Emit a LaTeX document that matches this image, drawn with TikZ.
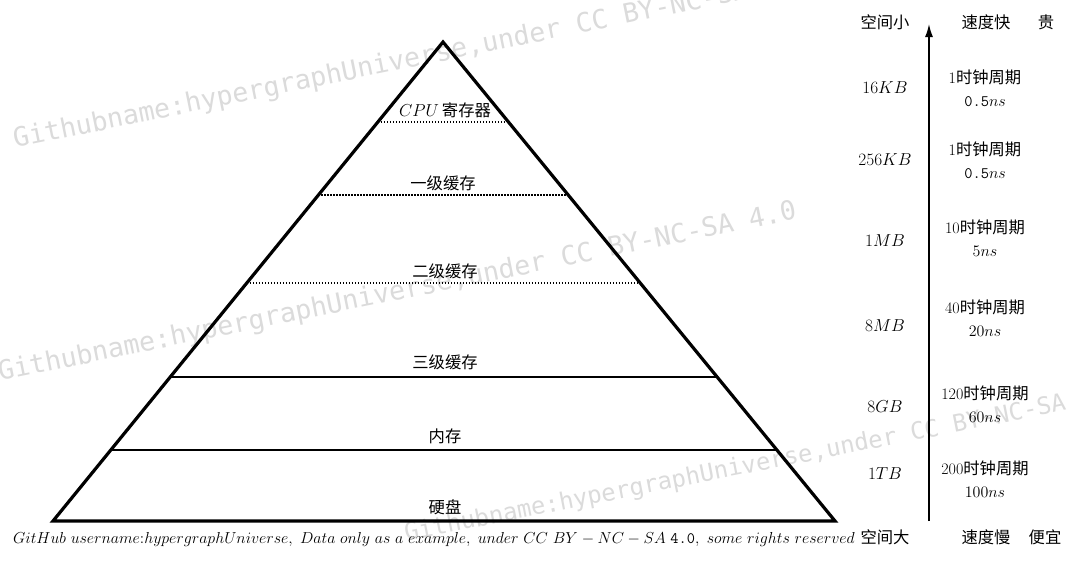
\RequirePackage{fix-cm}
\documentclass[tikz,border=0pt]{standalone}
\usepackage{fontspec}
\usetikzlibrary{calc,arrows.meta}
\newfontfamily\cjkfam{Noto Sans CJK SC}
\newfontfamily\wmfont{DejaVu Sans Mono}
\newcommand\zh[1]{{\fontsize{16.3}{23}\cjkfam #1}}
\begin{document}
\begin{tikzpicture}[x=1pt,y=-1pt,
  lbl/.style={inner sep=0pt, font=\fontsize{17.3}{22}\selectfont},
  two/.style={inner sep=0pt, align=center, font=\fontsize{16}{23}\selectfont},
  footfont/.style={inner sep=0pt, font=\fontsize{15.9}{20}\selectfont},
  tri/.style={line width=3.2pt, line join=miter},
  solidsep/.style={line width=2.8pt},
  dotsep/.style={line width=1.6pt, dash pattern=on 1.6pt off 1.4pt},
  wm/.style={text=black!14, rotate=11.5, anchor=base west, inner sep=0pt},
  axis/.style={line width=1.6pt, -{Latex[length=13pt,width=8pt]}}
]
\useasboundingbox (0,0) rectangle (1077,562);
\fill[white] (0,0) rectangle (1077,562);
% watermarks
\node[wm, font=\wmfont\fontsize{26.5}{26}\selectfont] (wm1) at (15,148) {Githubname:hypergraphUniverse,under CC BY-NC-SA 4.0};
\node[wm, font=\wmfont\fontsize{26.5}{26}\selectfont] (wm2) at (0,381) {Githubname:hypergraphUniverse,under CC BY-NC-SA 4.0};
\node[wm, rotate=-0.3, font=\wmfont\fontsize{23.8}{24}\selectfont] (wm3) at (406,541) {Githubname:hypergraphUniverse,under CC BY-NC-SA 4.0};
% pyramid
\coordinate (A) at (443,42);
\coordinate (BL) at (53,521);
\coordinate (BR) at (835,521);
\draw[tri] (A) -- (BL) -- (BR) -- cycle;
\foreach \n/\t in {1/0.167,2/0.3194,3/0.503,4/0.6994,5/0.8518}{
  \coordinate (L\n) at ($(A)!\t!(BL)$);
  \coordinate (R\n) at ($(A)!\t!(BR)$);
}
\draw[dotsep] (L1) -- (R1);
\draw[dotsep] (L2) -- (R2);
\draw[dotsep] (L3) -- (R3);
\draw[solidsep] (L4) -- (R4);
\draw[solidsep] (L5) -- (R5);
% layer labels
\node[lbl] (cpu) at (445,110) {$CPU$\,\zh{寄存器}};
\node[lbl] (l1) at (443,183) {\zh{一级缓存}};
\node[lbl] (l2) at (445,271) {\zh{二级缓存}};
\node[lbl] (l3) at (445,362) {\zh{三级缓存}};
\node[lbl] (mem) at (445,436) {\zh{内存}};
\node[lbl] (disk) at (445,507) {\zh{硬盘}};
% footer
\node[footfont, anchor=base west] (foot) at (13,543) {$GitHub\ username{:}hypergraphUniverse,\ Data\ only\ as\ a\ example,\ under\ CC\ BY-NC-SA\ \hbox{\texttt{4.0}},\ some\ rights\ reserved$};
% axis
\coordinate (ax0) at (929,521);
\coordinate (ax1) at (929,24);
\draw[axis] (ax0) -- (ax1);
% header / footer labels
\node[lbl] (small) at (885,22) {\zh{空间小}};
\node[lbl] (big) at (885,537) {\zh{空间大}};
\node[lbl] (fast) at (986,22) {\zh{速度快}};
\node[lbl] (dear) at (1046,22) {\zh{贵}};
\node[lbl] (slow) at (986,537) {\zh{速度慢}};
\node[lbl] (cheap) at (1045,537) {\zh{便宜}};
% sizes
\node[lbl] (s1) at (885,88) {$16KB$};
\node[lbl] (s2) at (885,160) {$256KB$};
\node[lbl] (s3) at (885,241) {$1MB$};
\node[lbl] (s4) at (885,326) {$8MB$};
\node[lbl] (s5) at (885,407) {$8GB$};
\node[lbl] (s6) at (885,474) {$1TB$};
% speeds
\node[two] (t1) at (985,88) {1\zh{时钟周期}\\\texttt{0.5}$ns$};
\node[two] (t2) at (985,160) {1\zh{时钟周期}\\\texttt{0.5}$ns$};
\node[two] (t3) at (985,238) {10\zh{时钟周期}\\$5ns$};
\node[two] (t4) at (985,318) {40\zh{时钟周期}\\$20ns$};
\node[two] (t5) at (985,404) {120\zh{时钟周期}\\$60ns$};
\node[two] (t6) at (985,479) {200\zh{时钟周期}\\$100ns$};
\end{tikzpicture}
\end{document}
